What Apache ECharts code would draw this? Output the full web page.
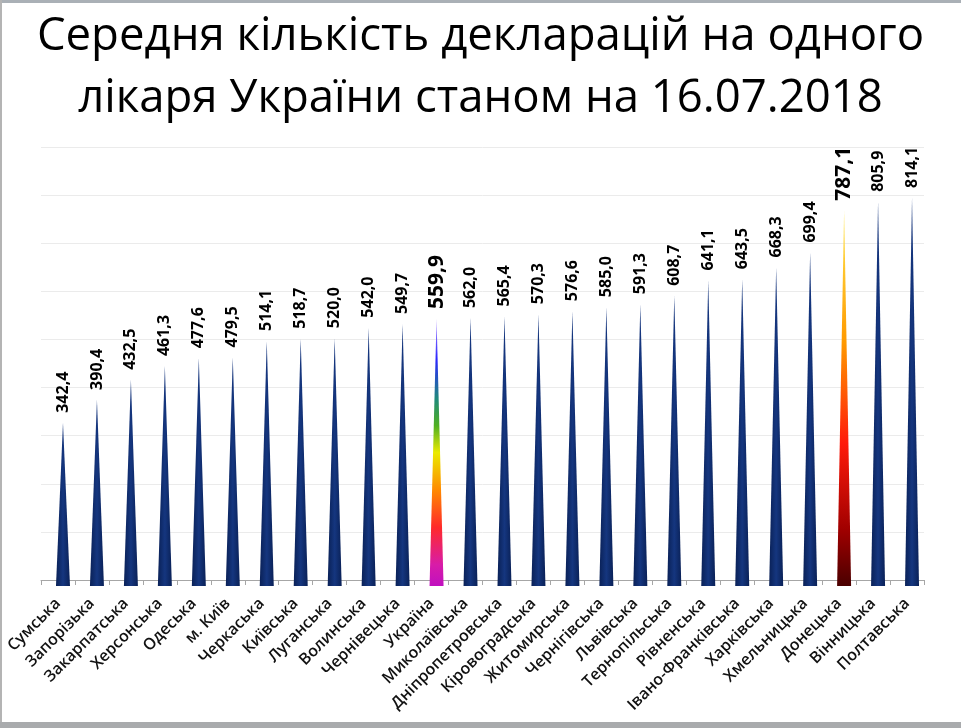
<!DOCTYPE html>
<html>
<head>
<meta charset="utf-8">
<script src="https://cdn.jsdelivr.net/npm/echarts@6/dist/echarts.min.js"></script>
<style>html,body{margin:0;padding:0;background:#fff;}#c{width:961px;height:728px;}</style>
</head>
<body>
<div id="c"></div>
<script>
var titleLines = ['Середня кількість декларацій на одного', 'лікаря України станом на 16.07.2018'];
var categories = ['Сумська','Запорізька','Закарпатська','Херсонська','Одеська','м. Київ','Черкаська','Київська','Луганська','Волинська','Чернівецька','Україна','Миколаївська','Дніпропетровська','Кіровоградська','Житомирська','Чернігівська','Львівська','Тернопільська','Рівненська','Івано-Франківська','Харківська','Хмельницька','Донецька','Вінницька','Полтавська'];
var values = [342.4,390.4,432.5,461.3,477.6,479.5,514.1,518.7,520.0,542.0,549.7,559.9,562.0,565.4,570.3,576.6,585.0,591.3,608.7,641.1,643.5,668.3,699.4,787.1,805.9,814.1];
var highlightUkraine = 'Україна';
var highlightDonetsk = 'Донецька';

var navy = {type:'linear',x:0,y:0,x2:1,y2:0,colorStops:[{offset:0,color:'#0a2157'},{offset:0.5,color:'#15367f'},{offset:1,color:'#0a2157'}]};
var rainbow = {type:'linear',x:0,y:0,x2:0,y2:1,colorStops:[
  {offset:0,color:'#b090ff'},{offset:0.15,color:'#2a25ff'},{offset:0.3,color:'#1f8a7a'},
  {offset:0.4,color:'#50b020'},{offset:0.5,color:'#eaea00'},{offset:0.64,color:'#ff8a00'},
  {offset:0.78,color:'#ff2a2a'},{offset:0.92,color:'#d81ca8'},{offset:1,color:'#c010c0'}]};
var fire = {type:'linear',x:0,y:0,x2:0,y2:1,colorStops:[
  {offset:0,color:'#ffe850'},{offset:0.35,color:'#ff9a00'},{offset:0.62,color:'#ff1a0a'},
  {offset:0.85,color:'#a00000'},{offset:1,color:'#4a0000'}]};

function fmt(v){ return v.toFixed(1).replace('.', ','); }

var barData = values.map(function(v, i){
  var c = categories[i];
  var item = {value: v, itemStyle: {color: navy}};
  if (c === highlightUkraine) { item.itemStyle = {color: rainbow}; item.label = {fontSize: 21}; }
  if (c === highlightDonetsk) { item.itemStyle = {color: fire}; item.label = {fontSize: 21}; }
  return item;
});

var chart = echarts.init(document.getElementById('c'), null, {renderer:'canvas'});
chart.setOption({
  backgroundColor: '#ffffff',
  animation: false,
  title: {
    text: titleLines.join('\n'),
    left: 'center', top: 1,
    textStyle: {fontFamily: 'Open Sans', fontSize: 45.5, fontWeight: 'normal', color: '#000', lineHeight: 62}
  },
  graphic: [
    {type:'rect', shape:{x:0,y:0,width:961,height:3}, style:{fill:'#aab0b6'}, silent:true},
    {type:'rect', shape:{x:0,y:0,width:2,height:728}, style:{fill:'#b4b4b4'}, silent:true},
    {type:'rect', shape:{x:0,y:722,width:961,height:6}, style:{fill:'#a9abad'}, silent:true}
  ],
  grid: [
    {left: 41, right: 37, top: 147, bottom: 148},
    {left: 46, right: 32, top: 157, bottom: 142}
  ],
  xAxis: [
    {type:'category', gridIndex:0, data: categories, boundaryGap:true, offset: 8,
     axisLine:{show:true, lineStyle:{color:'#a6a6a6', width:1}},
     axisTick:{show:true, length:5, lineStyle:{color:'#a6a6a6'}},
     axisLabel:{rotate:45, interval:0, margin:13, color:'#111', fontFamily:'Open Sans', fontWeight:600, fontSize:16}},
    {type:'category', gridIndex:1, data: categories, show:false}
  ],
  yAxis: [
    {type:'value', gridIndex:0, min:0, max:900, interval:100,
     axisLine:{show:false}, axisTick:{show:false}, axisLabel:{show:false},
     splitLine:{show:true, lineStyle:{color:'#ebebeb', width:1}}},
    {type:'value', gridIndex:1, min:0, max:900, interval:100, show:false, splitLine:{show:false}}
  ],
  series: [{
    type:'pictorialBar', xAxisIndex:1, yAxisIndex:1,
    symbol:'triangle', symbolSize:[14,'100%'],
    data: barData,
    label: {show:true, position:'top', rotate:90, align:'left', verticalAlign:'middle', distance:10,
            color:'#000', fontFamily:'Open Sans', fontWeight:'bold', fontSize:16,
            formatter: function(p){ return fmt(p.value); }}
  }]
});
</script>
</body>
</html>
